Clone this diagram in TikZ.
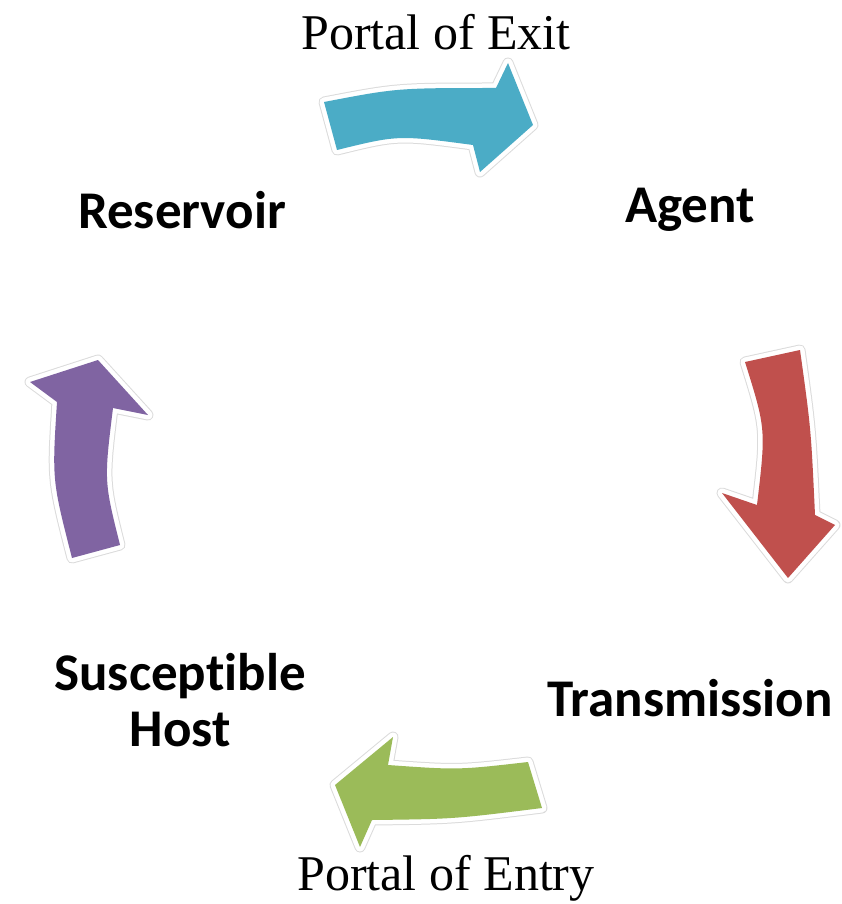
\documentclass[tikz,border=0pt]{standalone}
\usepackage{fontspec}
\setmainfont{Liberation Serif}
\newfontfamily\lblfont[Ligatures={NoCommon,NoRare,NoContextual}]{Carlito}
\definecolor{cexit}{HTML}{4BACC6}
\definecolor{ctrans}{HTML}{C0504D}
\definecolor{centry}{HTML}{9BBB59}
\definecolor{cres}{HTML}{8064A2}
\tikzset{
  halo/.style={draw=black!14, line width=11pt, line join=round},
  whiteband/.style={draw=white, line width=9pt, line join=round},
  body/.style={fill=#1},
  stage/.style={font=\lblfont\bfseries\fontsize{53}{56}\selectfont, align=center},
  portal/.style={font=\fontsize{50}{52}\selectfont}
}
\begin{document}
\begin{tikzpicture}[x=1pt,y=-1pt]
\useasboundingbox (0,0) rectangle (841,904);
% top arrow (portal of exit)
\def\arrowA{(324,102) .. controls (397,88) .. (496,88) -- (508,63) -- (533,125) -- (480,172) -- (473,145) .. controls (398,135) .. (337,150) -- cycle}
\path[halo] \arrowA;
\path[whiteband] \arrowA;
\path[body=cexit] \arrowA;
% right arrow (transmission)
\def\arrowB{(745,362) -- (800,350) .. controls (811,429) .. (815,515) -- (835,525) -- (788,578) -- (722,493) -- (757,505) .. controls (766,429) .. (745,362) -- cycle}
\path[halo] \arrowB;
\path[whiteband] \arrowB;
\path[body=ctrans] \arrowB;
% bottom arrow (portal of entry)
\def\arrowC{(528,762) .. controls (458,770) .. (388,765) -- (393,737) -- (335,785) -- (360,847) -- (372,820) .. controls (454,819) .. (542,808) -- cycle}
\path[halo] \arrowC;
\path[whiteband] \arrowC;
\path[body=centry] \arrowC;
% left arrow (reservoir)
\def\arrowD{(72,558) .. controls (52,480) .. (57,402) -- (30,382) -- (98,360) -- (148,415) -- (113,408) .. controls (104,481) .. (120,545) -- cycle}
\path[halo] \arrowD;
\path[whiteband] \arrowD;
\path[body=cres] \arrowD;
% labels
\node[portal] (exit) at (436,32) {Portal of Exit};
\node[portal] (entry) at (446,878) {Portal of Entry};
\node[stage] (agent) at (690,210) {Agent};
\node[stage] (trans) at (690,698) {Transmission};
\node[stage] (host) at (180,700) {Susceptible\\Host};
\node[stage] (res) at (182,210) {Reservoir};
\end{tikzpicture}
\end{document}
